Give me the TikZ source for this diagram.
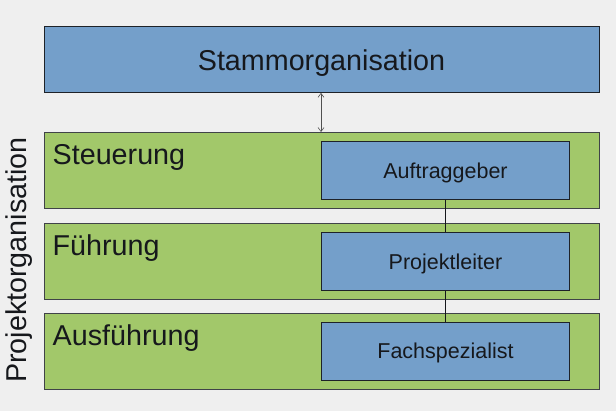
\documentclass[tikz,border=0pt]{standalone}
\usepackage{fontspec}
\setmainfont{Liberation Sans}
\usetikzlibrary{arrows.meta}
\definecolor{pagebg}{RGB}{239,239,239}
\definecolor{unitblue}{RGB}{116,159,202}
\definecolor{levelgreen}{RGB}{162,200,106}
\definecolor{edgedark}{RGB}{30,34,40}
\definecolor{inkdark}{RGB}{22,24,28}
\definecolor{arrowgrey}{RGB}{80,80,80}
\begin{document}
\begin{tikzpicture}[x=1pt,y=-1pt,
  bluebox/.style={draw=edgedark, fill=unitblue, line width=0.9pt, rectangle, inner sep=0pt, anchor=north west},
  greenbox/.style={draw=edgedark!85, fill=levelgreen, line width=0.9pt, rectangle, inner sep=0pt, anchor=north west},
  bigtext/.style={inner sep=0pt, text=inkdark, font=\fontsize{28.7}{30}\selectfont},
  smalltext/.style={inner sep=0pt, text=inkdark, font=\fontsize{21.5}{23}\selectfont, anchor=base},
  link/.style={draw=inkdark, line width=0.7pt},
  twoway/.style={draw=arrowgrey, line width=0.6pt, {Straight Barb[length=4pt,width=6pt]}-{Straight Barb[length=4pt,width=6pt]}}
]
  \fill[pagebg] (0,0) rectangle (616,411);
  \useasboundingbox (0,0) rectangle (616,411);

  % parent organisation
  \node[bluebox, minimum width=555pt, minimum height=66pt] (stamm) at (44,26) {};
  \node[bigtext, anchor=base] (stammtxt) at (321.5,70.7) {Stammorganisation};

  % project levels
  \node[greenbox, minimum width=555pt, minimum height=76pt] (steuer) at (44,132) {};
  \node[greenbox, minimum width=555pt, minimum height=76pt] (fuehr) at (44,223) {};
  \node[greenbox, minimum width=555pt, minimum height=76pt] (ausf) at (44,313) {};
  \node[bigtext, anchor=base west] (steuertxt) at (52.5,164.3) {Steuerung};
  \node[bigtext, anchor=base west] (fuehrtxt) at (52.5,255.3) {Führung};
  \node[bigtext, anchor=base west] (ausftxt) at (52.5,345.3) {Ausführung};

  % roles
  \node[bluebox, minimum width=248pt, minimum height=58pt] (auftr) at (321,141) {};
  \node[bluebox, minimum width=248pt, minimum height=58pt] (pl) at (321,232) {};
  \node[bluebox, minimum width=248pt, minimum height=58pt] (fach) at (321,322) {};
  \node[smalltext] (auftrtxt) at (445.5,178.3) {Auftraggeber};
  \node[smalltext] (pltxt) at (445.5,269.3) {Projektleiter};
  \node[smalltext] (fachtxt) at (445.5,358.3) {Fachspezialist};

  % side caption
  \node[bigtext, rotate=90, anchor=base] (projorg) at (27,260) {Projektorganisation};

  % connectors
  \draw[twoway] (stamm.south west -| auftr.north west) -- (auftr.north west |- steuer.north);
  \draw[link] (auftr.south) -- (pl.north);
  \draw[link] (pl.south) -- (fach.north);
\end{tikzpicture}
\end{document}
